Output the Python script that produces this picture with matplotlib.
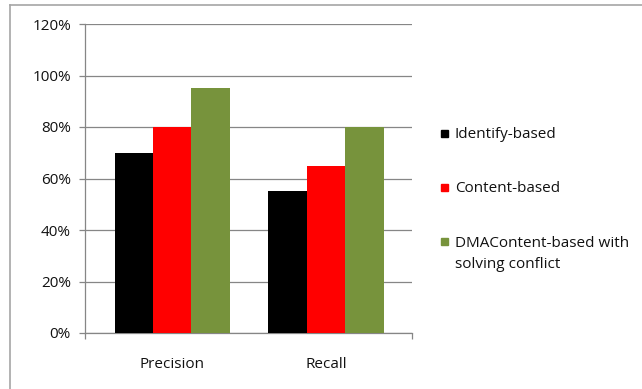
import numpy as np
import matplotlib
matplotlib.use("Agg")
import matplotlib.pyplot as plt
from matplotlib.lines import Line2D
from matplotlib.patches import Rectangle
from matplotlib.ticker import FuncFormatter

# chart values (percent)
categories = ["Precision", "Recall"]
series_names = ["Identify-based", "Content-based", "DMAContent-based with\nsolving conflict"]
series_colors = ["#000000", "#ff0000", "#77933c"]
identify = [70, 55]
content = [80, 65]
dma_content = [95, 80]
y_ticks = [0, 20, 40, 60, 80, 100, 120]

plt.rcParams["font.family"] = ["Open Sans", "DejaVu Sans"]

W, H = 642, 389
fig = plt.figure(figsize=(W / 100, H / 100), dpi=100)
ax = fig.add_axes([85.5 / W, 1 - 333 / H, (412 - 85.5) / W, (333 - 24) / H])

grey = "#868686"
txt = "#111111"
fs = 11
x = np.arange(len(categories))
width = 0.25
all_values = [identify, content, dma_content]
for i, (vals, name, col) in enumerate(zip(all_values, series_names, series_colors)):
    ax.bar(x + (i - 1) * width, vals, width, color=col, label=name, zorder=3)

xlim = (-0.564, len(categories) - 1 + 0.56)
ax.set_xlim(*xlim)
ax.set_ylim(0, 120)
ax.set_yticks(y_ticks)
ax.yaxis.set_major_formatter(FuncFormatter(lambda v, p: "%d%%" % v))
ax.yaxis.grid(True, color=grey, linewidth=0.9, zorder=0)

ax.set_xticks(x)
ax.set_xticklabels(categories)
ax.set_xticks(list(xlim), minor=True)
ax.tick_params(axis="x", which="major", length=0, pad=17.5, labelsize=fs, labelcolor=txt)
ax.tick_params(axis="x", which="minor", length=4.5, color=grey, width=0.9)
ax.tick_params(axis="y", length=4, color=grey, width=0.9, pad=6.5, labelsize=fs, labelcolor=txt)

for s in ["top", "right"]:
    ax.spines[s].set_visible(False)
for s in ["left", "bottom"]:
    ax.spines[s].set_color(grey)
    ax.spines[s].set_linewidth(0.9)

# legend on the right, drawn by hand so the square sits on the first line
for i, (name, col) in enumerate(zip(series_names, series_colors)):
    yc = 133 + 54.5 * i
    fig.add_artist(Rectangle((441 / W, 1 - (yc + 3.5) / H), 7 / W, 7 / H,
                             transform=fig.transFigure, color=col))
    fig.text(455 / W, 1 - (yc - 6.5) / H, name, ha="left", va="top", fontsize=fs,
             color=txt, linespacing=1.6)

# outer chart border (left and top only are visible)
fig.add_artist(Line2D([10 / W, 10 / W], [0, 1 - 5 / H], transform=fig.transFigure,
                      color="#a6a6a6", linewidth=1.2))
fig.add_artist(Line2D([10 / W, 1], [1 - 5 / H, 1 - 5 / H], transform=fig.transFigure,
                      color="#a6a6a6", linewidth=1.2))

fig.savefig("out.png", dpi=100)
